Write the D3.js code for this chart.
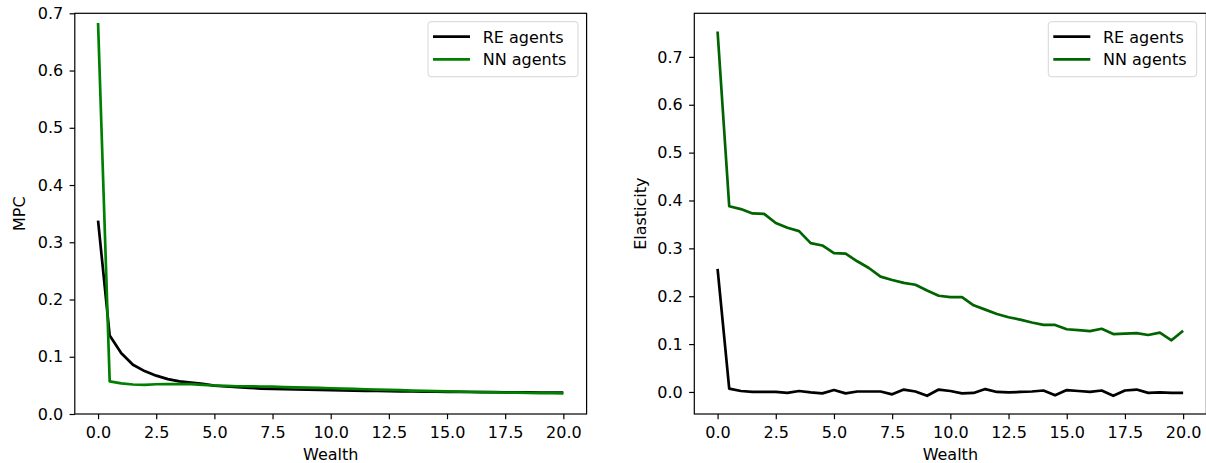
<!DOCTYPE html>
<html><head><meta charset="utf-8">
<script src="https://cdn.jsdelivr.net/npm/d3@7"></script>
<style>
html,body{margin:0;padding:0;background:#fff;}
svg{display:block;font-family:"DejaVu Sans",sans-serif;}
</style></head>
<body>
<svg id="chart" width="1206" height="463"></svg>
<script>
const wealth = [0,0.5,1,1.5,2,2.5,3,3.5,4,4.5,5,5.5,6,6.5,7,7.5,8,8.5,9,9.5,10,10.5,11,11.5,12,12.5,13,13.5,14,14.5,15,15.5,16,16.5,17,17.5,18,18.5,19,19.5,20];
const mpcRE = [0.338,0.137,0.106,0.086,0.075,0.067,0.061,0.057,0.055,0.0525,0.0497,0.048,0.0467,0.0456,0.0445,0.0438,0.0432,0.0428,0.0424,0.042,0.0416,0.0412,0.0408,0.0405,0.0402,0.0399,0.0396,0.0394,0.0392,0.039,0.0388,0.0386,0.0384,0.0382,0.0381,0.038,0.0378,0.0377,0.0376,0.0375,0.0374];
const mpcNN = [0.683,0.057,0.0535,0.0515,0.051,0.052,0.0522,0.0522,0.0522,0.051,0.0498,0.049,0.0485,0.0482,0.048,0.0478,0.047,0.0465,0.046,0.0455,0.045,0.0444,0.0438,0.0432,0.0427,0.0422,0.0416,0.041,0.0405,0.04,0.0395,0.039,0.0385,0.0381,0.0378,0.0375,0.0372,0.0369,0.0366,0.0363,0.036];
const elasRE = [0.257,0.007,0.002,0.0,0.0,0.0,-0.002,0.002,-0.001,-0.003,0.004,-0.003,0.001,0.001,0.001,-0.005,0.005,0.001,-0.008,0.005,0.002,-0.003,-0.002,0.006,0.0,-0.001,0.0,0.001,0.003,-0.007,0.004,0.002,0.0,0.003,-0.008,0.003,0.005,-0.002,-0.001,-0.002,-0.002];
const elasNN = [0.753,0.388,0.382,0.373,0.372,0.353,0.343,0.336,0.311,0.306,0.290,0.289,0.273,0.259,0.241,0.234,0.228,0.224,0.212,0.201,0.198,0.198,0.181,0.172,0.163,0.156,0.151,0.145,0.140,0.140,0.131,0.129,0.127,0.132,0.121,0.122,0.123,0.119,0.124,0.108,0.128];
const xTicks = [0,2.5,5,7.5,10,12.5,15,17.5,20];
const mpcTicks = [0,0.1,0.2,0.3,0.4,0.5,0.6,0.7];
const elasTicks = [0,0.1,0.2,0.3,0.4,0.5,0.6,0.7];
const seriesNames = ["RE agents","NN agents"];

const svg = d3.select("#chart");
const plotTop = 13.3, plotBottom = 414;
const FS = 16;

function panel(opt){
  const g = svg.append("g");
  const x = d3.scaleLinear().domain([-1,21]).range([opt.left, opt.right]);
  const y = d3.scaleLinear().domain(opt.ydom).range([plotBottom, plotTop]);
  const line = d3.line().x((d,i)=>x(wealth[i])).y(d=>y(d));
  const clipId = "clip"+opt.id;
  svg.append("clipPath").attr("id",clipId).append("rect")
    .attr("x",opt.left).attr("y",plotTop).attr("width",opt.right-opt.left).attr("height",plotBottom-plotTop);
  opt.series.forEach(s=>{
    g.append("path").datum(s.values).attr("d",line).attr("fill","none")
      .attr("stroke",s.color).attr("stroke-width",2.7).attr("stroke-linejoin","round")
      .attr("stroke-linecap","butt").attr("clip-path",`url(#${clipId})`);
  });
  const xa = g.append("g").attr("transform",`translate(0,${plotBottom})`)
    .call(d3.axisBottom(x).tickValues(xTicks).tickFormat(d3.format(".1f")).tickSize(5.2).tickPadding(7.3));
  const ya = g.append("g").attr("transform",`translate(${opt.left},0)`)
    .call(d3.axisLeft(y).tickValues(opt.yticks).tickFormat(d3.format(".1f")).tickSize(5.2).tickPadding(6.3));
  [xa,ya].forEach(a=>{
    a.attr("font-size",null).attr("font-family",null);
    a.select(".domain").remove();
    a.selectAll("line").attr("stroke","#000").attr("stroke-width",1.2);
    a.selectAll("text").attr("fill","#000").style("font-size",FS+"px").style("font-family","DejaVu Sans");
  });
  g.append("rect").attr("x",opt.left).attr("y",plotTop).attr("width",opt.right-opt.left).attr("height",plotBottom-plotTop)
    .attr("fill","none").attr("stroke","#000").attr("stroke-width",1.2);
  g.append("text").attr("x",(opt.left+opt.right)/2).attr("y",460).attr("text-anchor","middle")
    .style("font-size",FS+"px").text("Wealth");
  g.append("text").attr("transform",`translate(${opt.ylabelX},${(plotTop+plotBottom)/2}) rotate(-90)`)
    .attr("text-anchor","middle").style("font-size",FS+"px").text(opt.ylabel);
  const lg = g.append("g");
  lg.append("rect").attr("x",opt.lx).attr("y",21.7).attr("width",opt.lw).attr("height",55)
    .attr("rx",3).attr("fill","#fff").attr("fill-opacity",0.8).attr("stroke","#d6d6d6").attr("stroke-width",1);
  opt.series.forEach((s,i)=>{
    const cy = 36.7 + i*22.6;
    lg.append("line").attr("x1",opt.lx+5).attr("x2",opt.lx+42).attr("y1",cy).attr("y2",cy)
      .attr("stroke",s.color).attr("stroke-width",2.7);
    lg.append("text").attr("x",opt.lx+54.7).attr("y",cy+5.8).style("font-size",FS+"px").text(seriesNames[i]);
  });
}

panel({id:1,left:74.8,right:586.6,ydom:[0,0.7],yticks:mpcTicks,ylabel:"MPC",ylabelX:25,
  lx:428,lw:150,
  series:[{values:mpcRE,color:"#000000"},{values:mpcNN,color:"#008000"}]});

const allE = elasRE.concat(elasNN);
const eMin = d3.min(allE), eMax = d3.max(allE), pad = (eMax-eMin)*0.05;
panel({id:2,left:694.3,right:1206.4,ydom:[eMin-pad,eMax+pad],yticks:elasTicks,ylabel:"Elasticity",ylabelX:646,
  lx:1048.3,lw:148.4,
  series:[{values:elasRE,color:"#000000"},{values:elasNN,color:"#006400"}]});
</script>
</body></html>
